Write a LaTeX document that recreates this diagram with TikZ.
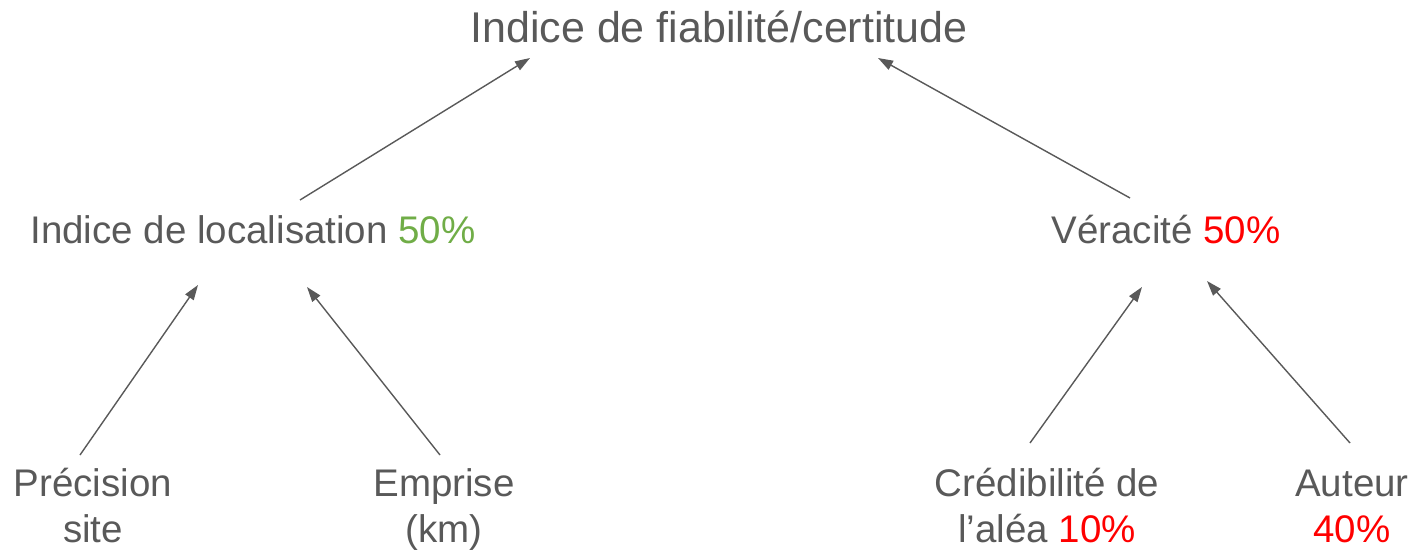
\documentclass[tikz,border=0pt]{standalone}
\usepackage{fontspec}
\setmainfont{Liberation Sans}
\usetikzlibrary{arrows.meta}
\definecolor{txt}{HTML}{595959}
\definecolor{grn}{HTML}{70AD47}
\definecolor{rd}{HTML}{FF0000}
\begin{document}
\begin{tikzpicture}[x=1pt,y=-1pt,
  lbl/.style={text=txt,inner sep=0pt,anchor=base,align=center,font=\fontsize{38.5}{46}\selectfont},
  ttl/.style={text=txt,inner sep=0pt,anchor=base,font=\fontsize{43}{50}\selectfont},
  conn/.style={draw=txt,line width=1.4pt,-{Triangle[length=15pt,width=10pt]}}]
\useasboundingbox (0,0) rectangle (1415,551);
\node[ttl] (title) at (719,43) {Indice de fiabilité/certitude};
\node[lbl] (loc) at (253,243) {Indice de localisation \textcolor{grn}{50\%}};
\node[lbl] (ver) at (1166,243) {Véracité \textcolor{rd}{50\%}};
\node[lbl] (prec) at (93,542) {Précision\\site};
\node[lbl] (empr) at (444,542) {Emprise\\(km)};
\node[lbl] (cred) at (1047,542) {Crédibilité de\\l’aléa \textcolor{rd}{10\%}};
\node[lbl] (aut) at (1352,542) {Auteur\\\textcolor{rd}{40\%}};
\coordinate (locT) at (300,200);   \coordinate (titL) at (530,58);
\coordinate (verT) at (1130,198);  \coordinate (titR) at (878,58);
\coordinate (precT) at (80,455);   \coordinate (locL) at (198,285);
\coordinate (emprT) at (440,455);  \coordinate (locR) at (307,287);
\coordinate (credT) at (1030,443); \coordinate (verL) at (1142,287);
\coordinate (autT) at (1350,443);  \coordinate (verR) at (1207,281);
\draw[conn] (locT) -- (titL);
\draw[conn] (verT) -- (titR);
\draw[conn] (precT) -- (locL);
\draw[conn] (emprT) -- (locR);
\draw[conn] (credT) -- (verL);
\draw[conn] (autT) -- (verR);
\end{tikzpicture}
\end{document}
